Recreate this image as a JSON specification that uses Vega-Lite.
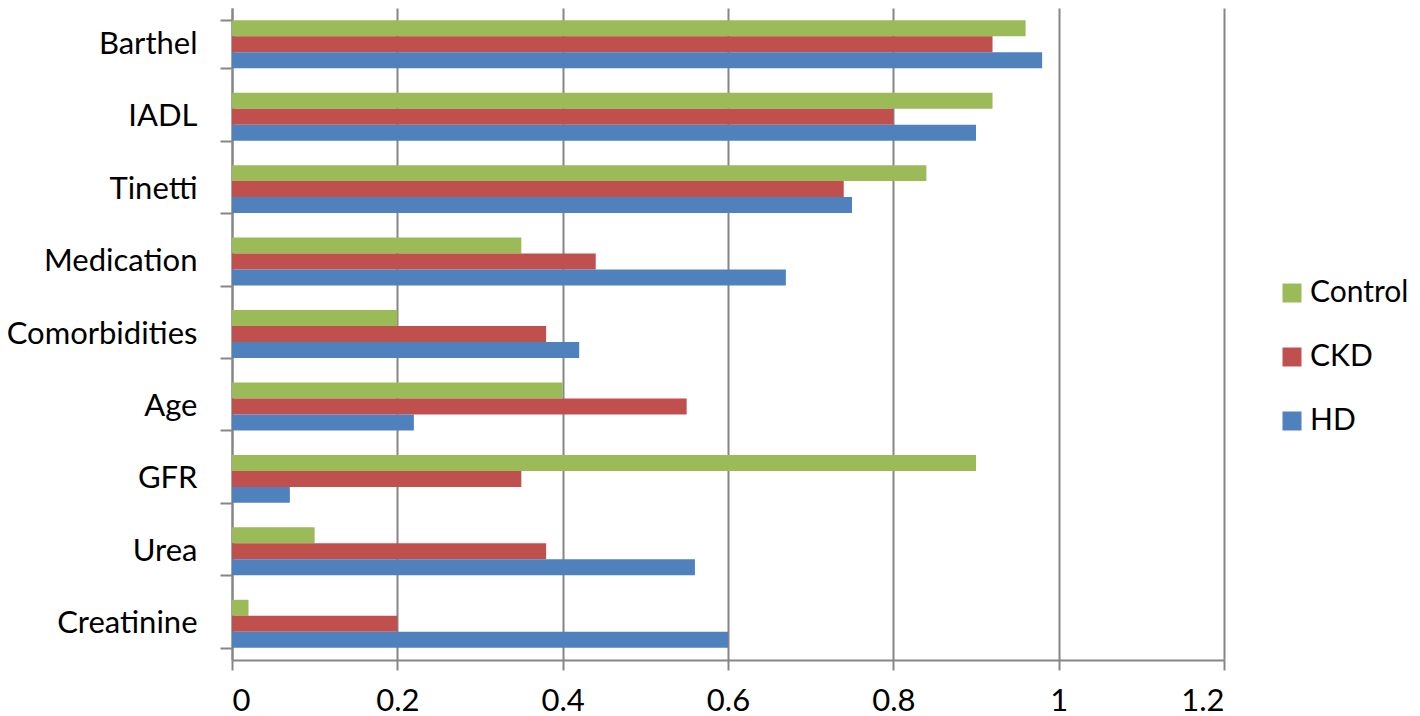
{
  "$schema": "https://vega.github.io/schema/vega-lite/v6.json",
  "width": 992,
  "height": 652,
  "autosize": {"type": "none"},
  "padding": {"left": 232, "top": 8, "right": 196, "bottom": 56},
  "config": {"view": {"stroke": null}, "font": "Lato"},
  "data": {
    "values": [
      {"measure": "Barthel", "group": "Control", "value": 0.96},
      {"measure": "Barthel", "group": "CKD", "value": 0.92},
      {"measure": "Barthel", "group": "HD", "value": 0.98},
      {"measure": "IADL", "group": "Control", "value": 0.92},
      {"measure": "IADL", "group": "CKD", "value": 0.80},
      {"measure": "IADL", "group": "HD", "value": 0.90},
      {"measure": "Tinetti", "group": "Control", "value": 0.84},
      {"measure": "Tinetti", "group": "CKD", "value": 0.74},
      {"measure": "Tinetti", "group": "HD", "value": 0.75},
      {"measure": "Medication", "group": "Control", "value": 0.35},
      {"measure": "Medication", "group": "CKD", "value": 0.44},
      {"measure": "Medication", "group": "HD", "value": 0.67},
      {"measure": "Comorbidities", "group": "Control", "value": 0.20},
      {"measure": "Comorbidities", "group": "CKD", "value": 0.38},
      {"measure": "Comorbidities", "group": "HD", "value": 0.42},
      {"measure": "Age", "group": "Control", "value": 0.40},
      {"measure": "Age", "group": "CKD", "value": 0.55},
      {"measure": "Age", "group": "HD", "value": 0.22},
      {"measure": "GFR", "group": "Control", "value": 0.90},
      {"measure": "GFR", "group": "CKD", "value": 0.35},
      {"measure": "GFR", "group": "HD", "value": 0.07},
      {"measure": "Urea", "group": "Control", "value": 0.10},
      {"measure": "Urea", "group": "CKD", "value": 0.38},
      {"measure": "Urea", "group": "HD", "value": 0.56},
      {"measure": "Creatinine", "group": "Control", "value": 0.02},
      {"measure": "Creatinine", "group": "CKD", "value": 0.20},
      {"measure": "Creatinine", "group": "HD", "value": 0.60}
    ]
  },
  "mark": {"type": "bar"},
  "encoding": {
    "y": {
      "field": "measure",
      "type": "nominal",
      "sort": ["Barthel", "IADL", "Tinetti", "Medication", "Comorbidities", "Age", "GFR", "Urea", "Creatinine"],
      "scale": {"paddingInner": 0.338, "paddingOuter": 0.169},
      "axis": {
        "title": null,
        "tickBand": "extent",
        "tickSize": 12,
        "tickColor": "#868686",
        "tickWidth": 2,
        "domainColor": "#868686",
        "domainWidth": 2,
        "grid": false,
        "labelFontSize": 31,
        "labelLimit": 0,
        "labelColor": "#000000",
        "labelPadding": 23
      }
    },
    "yOffset": {"field": "group", "type": "nominal", "sort": ["Control", "CKD", "HD"]},
    "x": {
      "field": "value",
      "type": "quantitative",
      "scale": {"domain": [0, 1.2], "nice": false},
      "axis": {
        "title": null,
        "values": [0, 0.2, 0.4, 0.6, 0.8, 1, 1.2],
        "format": "~g",
        "grid": true,
        "gridColor": "#868686",
        "gridWidth": 2,
        "gridOpacity": 1,
        "domainColor": "#868686",
        "domainWidth": 2,
        "tickColor": "#868686",
        "tickWidth": 2,
        "tickSize": 10,
        "labelFontSize": 31,
        "labelColor": "#000000",
        "labelPadding": 16
      }
    },
    "color": {
      "field": "group",
      "type": "nominal",
      "scale": {"domain": ["Control", "CKD", "HD"], "range": ["#9BBB59", "#C0504D", "#4F81BD"]},
      "legend": {
        "title": null,
        "orient": "none",
        "legendX": 1045,
        "legendY": 270,
        "symbolType": "square",
        "symbolSize": 361,
        "symbolStrokeWidth": 0,
        "symbolOpacity": 1,
        "labelFontSize": 30,
        "labelLimit": 0,
        "labelColor": "#000000",
        "labelOffset": 3,
        "rowPadding": 34,
        "padding": 0
      }
    }
  }
}
